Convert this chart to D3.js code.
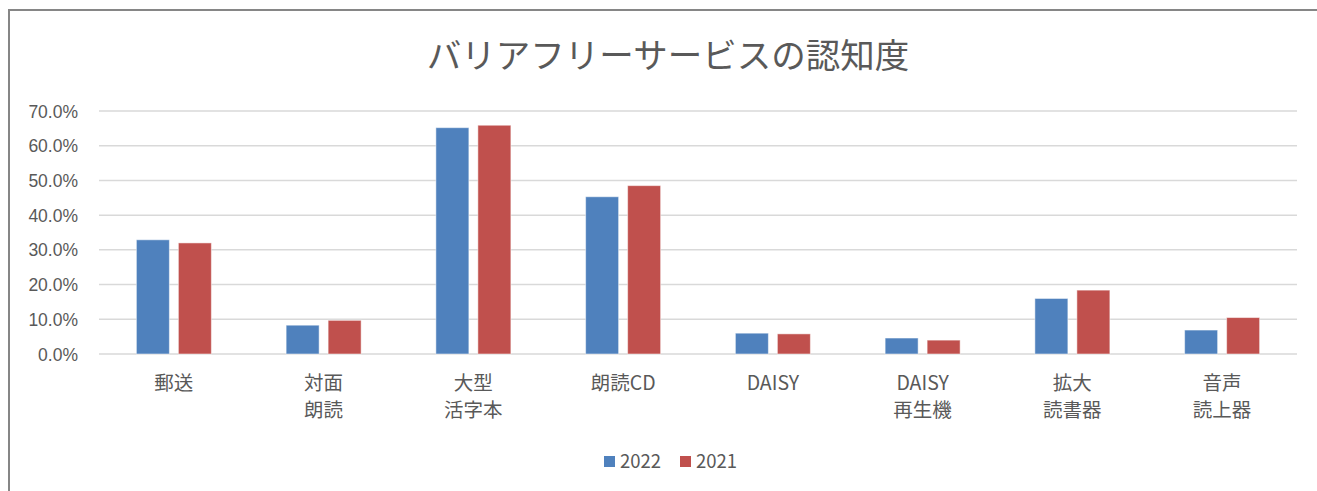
<!DOCTYPE html>
<html lang="ja">
<head>
    <meta charset="UTF-8">
    <title>バリアフリーサービスの認知度</title>
    <script src="https://d3js.org/d3.v7.min.js"></script>
    <style>
        body, html {
            margin: 0;
            padding: 0;
            background-color: #ffffff;
            overflow: hidden;
        }
        svg {
            display: block;
            font-family: 'Noto Sans CJK JP', 'Noto Sans', sans-serif;
        }
        .tick-label { fill: #595959; font-size: 17.5px; }
        .cat-label { fill: #595959; font-size: 19.5px; }
        .legend-label { fill: #595959; font-size: 18.5px; }
    </style>
</head>
<body>
<svg id="chart" width="1317" height="491"></svg>

<script>
    // Data
    const categories = ['郵送', '対面朗読', '大型活字本', '朗読CD', 'DAISY', 'DAISY再生機', '拡大読書器', '音声読上器'];
    const categoryLines = [['郵送'], ['対面', '朗読'], ['大型', '活字本'], ['朗読CD'], ['DAISY'], ['DAISY', '再生機'], ['拡大', '読書器'], ['音声', '読上器']];
    const seriesNames = ['2022', '2021'];
    const values2022 = [32.9, 8.3, 65.2, 45.3, 6.0, 4.6, 16.0, 6.9];
    const values2021 = [32.0, 9.7, 65.9, 48.5, 5.8, 4.0, 18.4, 10.5];
    const yTicks = [0, 10, 20, 30, 40, 50, 60, 70];
    const colors = ['#4f81bd', '#c0504d'];

    const svg = d3.select('#chart');
    const margin = { top: 111, right: 20, bottom: 137, left: 99 };
    const plotW = 1297 - margin.left;
    const plotH = 354 - margin.top;

    // chart frame
    svg.append('rect')
        .attr('x', 9)
        .attr('y', 10)
        .attr('width', 1340)
        .attr('height', 520)
        .attr('fill', 'none')
        .attr('stroke', '#868686')
        .attr('stroke-width', 2);

    svg.append('text')
        .attr('x', 668)
        .attr('y', 68)
        .attr('text-anchor', 'middle')
        .style('font-size', '34.5px')
        .style('fill', '#595959')
        .text('バリアフリーサービスの認知度');

    const g = svg.append('g').attr('transform', `translate(${margin.left},${margin.top})`);

    const x0 = d3.scaleBand().domain(categories).range([0, plotW]).padding(0);
    const half = 37.5;
    const x1 = d3.scaleBand().domain(seriesNames)
        .range([x0.bandwidth() / 2 - half, x0.bandwidth() / 2 + half])
        .paddingInner(9 / 42).paddingOuter(0);
    const y = d3.scaleLinear().domain([0, 70]).range([plotH, 0]);

    // gridlines
    g.append('g')
        .selectAll('line')
        .data(yTicks)
        .join('line')
        .attr('x1', 0)
        .attr('x2', plotW)
        .attr('y1', d => y(d))
        .attr('y2', d => y(d))
        .attr('stroke', '#d9d9d9')
        .attr('stroke-width', 1.5);

    // y axis labels
    const yAxis = g.append('g')
        .attr('transform', 'translate(-21,0)')
        .call(d3.axisLeft(y).tickValues(yTicks).tickSize(0).tickFormat(d => d.toFixed(1) + '%'));
    yAxis.select('.domain').remove();
    yAxis.selectAll('text').attr('class', 'tick-label').attr('x', 0).attr('dy', '0.35em');

    // bars
    const rows = categories.map((c, i) => ({ cat: c, vals: [values2022[i], values2021[i]] }));
    const groups = g.selectAll('.grp')
        .data(rows)
        .join('g')
        .attr('class', 'grp')
        .attr('transform', d => `translate(${x0(d.cat)},0)`);

    groups.selectAll('rect')
        .data(d => d.vals.map((v, j) => ({ key: seriesNames[j], v, j })))
        .join('rect')
        .attr('x', d => x1(d.key))
        .attr('width', x1.bandwidth())
        .attr('y', d => y(d.v))
        .attr('height', d => y(0) - y(d.v))
        .attr('fill', d => colors[d.j])
        .attr('stroke', '#ffffff')
        .attr('stroke-opacity', 0.5)
        .attr('stroke-width', 1);

    // category labels
    const xAxis = g.append('g').attr('transform', `translate(0,${plotH})`);
    xAxis.selectAll('text')
        .data(categories)
        .join('text')
        .attr('class', 'cat-label')
        .attr('text-anchor', 'middle')
        .attr('x', d => x0(d) + x0.bandwidth() / 2)
        .attr('y', 36)
        .each(function (d, i) {
            d3.select(this).selectAll('tspan')
                .data(categoryLines[i])
                .join('tspan')
                .attr('x', x0(d) + x0.bandwidth() / 2)
                .attr('dy', (t, k) => k === 0 ? 0 : 27)
                .text(t => t);
        });

    // legend
    const legend = svg.append('g').attr('transform', 'translate(604,456)');
    const legendX = [0, 76];
    seriesNames.forEach((s, i) => {
        const item = legend.append('g').attr('transform', `translate(${legendX[i]},0)`);
        item.append('rect').attr('width', 11).attr('height', 11).attr('fill', colors[i]);
        item.append('text')
            .attr('class', 'legend-label')
            .attr('x', 16)
            .attr('y', 5.5)
            .attr('dy', '0.36em')
            .text(s);
    });
</script>
</body>
</html>
